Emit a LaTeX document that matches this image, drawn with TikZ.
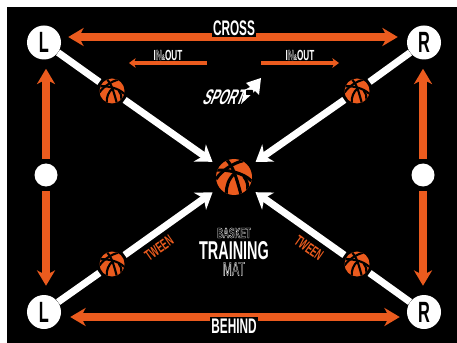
\documentclass[tikz,border=0pt]{standalone}
\usepackage{fontspec}
\usetikzlibrary{arrows.meta}
\newfontfamily\matfont[FakeStretch=0.56]{Liberation Sans}
\newcommand{\matsize}[1]{\matfont\fontsize{#1}{#1}\selectfont}
\newcommand{\hollow}[1]{\special{pdf:code 1 Tr 0.22 w}#1\special{pdf:code 0 Tr}}
\definecolor{mator}{HTML}{EB5B1E}
\tikzset{
  player/.style={circle,fill=white,text=black,minimum size=1.02cm,inner sep=0pt,font=\matsize{25}\bfseries},
  midspot/.style={circle,fill=white,minimum size=0.69cm,inner sep=0pt},
  ball/.style={circle,fill=mator,minimum size=#1 cm,inner sep=0pt,outer sep=0.09cm,
    path picture={
      \begin{scope}[shift={(path picture bounding box.center)},x=#1 cm/2,y=#1 cm/2,line width=#1*2.4pt,draw=black]
        \draw (-0.4,0.95) .. controls (-0.05,0.55) and (0.1,0.1) .. (0.38,-0.95);
        \draw (-0.95,0.38) .. controls (-0.4,0.42) and (0.5,0.25) .. (0.97,-0.22);
        \draw (0.5,0.9) .. controls (0,0.8) and (-0.7,0.35) .. (-1,-0.12);
        \draw (0.05,0.22) .. controls (-0.3,-0.1) and (-0.45,-0.5) .. (-0.42,-0.95);
        \draw (0.55,0.02) .. controls (0.72,-0.2) and (0.8,-0.45) .. (0.75,-0.7);
      \end{scope}
    }},
  whitear/.style={-{Stealth[length=0.46cm,width=0.62cm,inset=0.14cm]},line width=0.21cm,draw=white},
  whiteln/.style={line width=0.21cm,draw=white},
  orar/.style={-{Stealth[length=0.46cm,width=0.54cm,inset=0.14cm]},line width=0.24cm,draw=mator},
  orboth/.style={{Stealth[length=0.46cm,width=0.54cm,inset=0.14cm]}-{Stealth[length=0.46cm,width=0.54cm,inset=0.14cm]},line width=0.24cm,draw=mator},
  smallar/.style={-{Stealth[length=0.2cm,width=0.29cm,inset=0.06cm]},line width=0.11cm,draw=mator},
  title/.style={fill=black,text=white,inner sep=1pt,font=\matsize{18}\bfseries},
  lab/.style={text=white,inner sep=0pt},
  tween/.style={text=mator,inner sep=0pt,font=\matsize{13}\bfseries},
}
\begin{document}
\begin{tikzpicture}[x=0.03cm,y=-0.03cm]
  \useasboundingbox (0,0) rectangle (457,343);
  \fill[white] (0,0) rectangle (457,343);
  \fill[black] (7,7) rectangle (457,343);

  \node[player] (lt) at (44,42.5) {L};
  \node[player] (rt) at (424,42.5) {R};
  \node[player] (lb) at (44,312) {L};
  \node[player] (rb) at (424,312) {R};
  \node[midspot] (ml) at (46,175) {};
  \node[midspot] (mr) at (423,175) {};
  \node[ball=0.75] (bc) at (112,91) {};
  \node[ball=0.75] (bd) at (357,91) {};
  \node[ball=0.75] (be) at (112,264) {};
  \node[ball=0.75] (bf) at (357,264) {};
  \node[ball=1.08] (bm) at (234,177) {};

  \draw[whiteln] (lt) -- (bc);
  \draw[whiteln] (rt) -- (bd);
  \draw[whiteln] (lb) -- (be);
  \draw[whiteln] (rb) -- (bf);
  \draw[whitear,shorten >=0.16cm] (bc) -- (bm);
  \draw[whitear,shorten >=0.16cm] (bd) -- (bm);
  \draw[whitear,shorten >=0.16cm] (be) -- (bm);
  \draw[whitear,shorten >=0.16cm] (bf) -- (bm);

  \draw[orar,shorten >=0.27cm,shorten <=0.14cm] (ml) -- (ml |- lt.south);
  \draw[orar,shorten >=0.27cm,shorten <=0.14cm] (mr) -- (mr |- rt.south);
  \draw[orar,shorten >=0.27cm,shorten <=0.14cm] (ml) -- (ml |- lb.north);
  \draw[orar,shorten >=0.27cm,shorten <=0.14cm] (mr) -- (mr |- rb.north);
  \draw[orboth,shorten >=0.27cm,shorten <=0.21cm] ([yshift=0.165cm]lt.east) -- ([yshift=0.165cm]rt.west);
  \draw[orboth,shorten >=0.21cm,shorten <=0.27cm] ([yshift=-0.15cm]lb.east) -- ([yshift=-0.15cm]rb.west);

  \coordinate (iol) at (207,63);
  \coordinate (iom) at (129,63);
  \coordinate (ior) at (261,63);
  \coordinate (ios) at (339,63);
  \draw[smallar] (iol) -- (iom);
  \draw[smallar] (ior) -- (ios);

  \node[title] (cross) at (234,28) {CROSS};
  \node[title,inner ysep=1.5pt] (behind) at (234,326.5) {BEHIND};
  \node[lab,font=\matsize{12.5}\bfseries] (inl) at (168,55) {I\hollow{N}{\fontsize{7}{7}\selectfont\&}OUT};
  \node[lab,font=\matsize{12.5}\bfseries] (inr) at (300,55) {I\hollow{N}{\fontsize{7}{7}\selectfont\&}OUT};
  \node[tween,rotate=35] (twl) at (159,248) {TWEEN};
  \node[tween,rotate=-35] (twr) at (309,248) {TWEEN};

  \node[lab,font=\matsize{12.5}\bfseries] (basket) at (234,233) {\hollow{BASKET}};
  \node[lab,font=\matsize{22}\bfseries] (train) at (234,250.5) {TRAINING};
  \node[lab,font=\matsize{16.5}] (mat) at (234,269) {\hollow{MAT}};

  \node[lab,font=\matsize{18}\bfseries,xslant=0.4,transform shape] (sport) at (225,97) {SPORT};
  \fill[white] (246,83) -- (261,78) -- (259,95) -- (255,91) -- (241,104) -- (244.5,90) -- (250,87) -- cycle;
  \fill[black,rounded corners=0.5pt] (246,90) rectangle (253,95);
\end{tikzpicture}
\end{document}
